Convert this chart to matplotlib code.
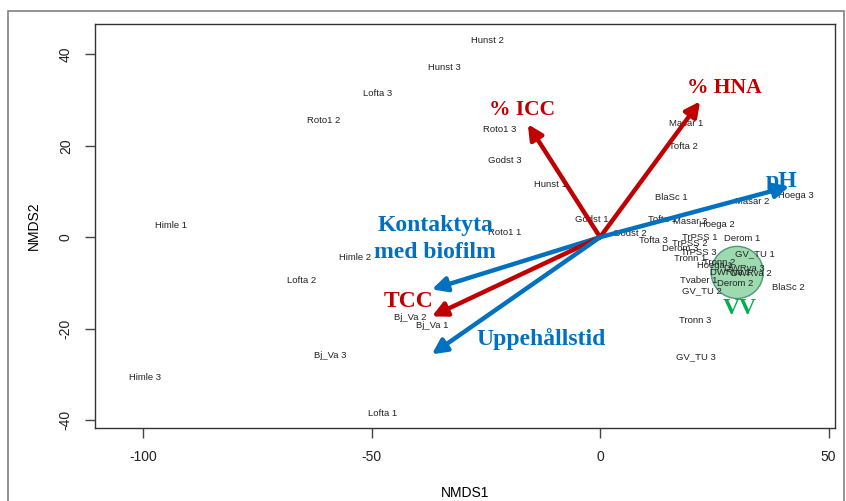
import matplotlib
matplotlib.use("Agg")
import matplotlib.pyplot as plt
from matplotlib.patches import Circle, Rectangle

plt.rcParams["axes.unicode_minus"] = False

# Site scores (NMDS1, NMDS2)
site_labels = [
    "Hunst 2", "Hunst 3", "Lofta 3", "Roto1 2", "Roto1 3", "Godst 3", "Hunst 1",
    "Masar 1", "Tofta 2", "Himle 1", "Roto1 1", "Godst 1", "Godst 2", "Tofta 3",
    "Tofta 1", "Masar 3", "Hoega 2", "BlaSc 1", "Masar 2", "Hoega 3", "Himle 2",
    "Lofta 2", "Bj_Va 2", "Bj_Va 1", "Bj_Va 3", "Himle 3", "Lofta 1", "Tronn 3",
    "GV_TU 3", "GV_TU 2", "BlaSc 2", "TrPSS 1", "Derom 1", "TrPSS 2", "Derom 3",
    "TrPSS 3", "GV_TU 1", "Tronn 1", "Tronn 2", "Hoega 1", "DWRva 3", "DWRva 2",
    "DWRva 1", "Derom 2", "Tvaber 1",
]
site_x = [
    -24.7, -34.1, -48.6, -60.4, -21.9, -20.8, -10.9,
    18.8, 18.2, -93.9, -20.8, -1.8, 6.6, 11.6,
    13.6, 19.7, 25.6, 15.5, 33.3, 42.9, -53.6,
    -65.2, -41.6, -36.8, -59.1, -99.6, -47.5, 20.8,
    21.0, 22.3, 41.1, 21.9, 31.1, 19.7, 17.5,
    21.5, 33.9, 19.7, 26.0, 25.0, 31.5, 33.0,
    28.5, 29.5, 21.5,
]
site_y = [
    43.1, 37.2, 31.5, 25.4, 23.6, 16.8, 11.6,
    24.9, 19.9, 2.6, 1.1, 3.9, 0.9, -0.7,
    3.9, 3.5, 2.8, 8.7, 7.9, 9.2, -4.4,
    -9.4, -17.5, -19.2, -25.8, -30.6, -38.5, -18.1,
    -26.2, -11.6, -11.1, 0.0, -0.2, -1.3, -2.4,
    -3.3, -3.5, -4.6, -5.5, -6.2, -6.8, -7.9,
    -7.7, -10.1, -9.5,
]

# Fitted environmental vectors: arrow tips and label anchors
vec_labels = ["% ICC", "% HNA", "pH", "Kontaktyta\nmed biofilm", "TCC", "Uppehållstid"]
vec_x = [-15.8, 21.9, 41.4, -36.8, -36.8, -36.8]
vec_y = [24.7, 29.7, 11.1, -11.4, -17.3, -25.6]
lab_x = [-17.1, 27.1, 39.8, -36.1, -42.0, -12.9]
lab_y = [27.8, 32.6, 12.2, -0.4, -14.0, -22.3]
vec_colors = ["#C00000", "#C00000", "#0070C0", "#0070C0", "#C00000", "#0070C0"]

# Highlighted group
group_label = "VV"
group_center = (30.0, -7.7)
group_radius = 5.7
group_label_pos = (30.6, -15.6)

fig = plt.figure(figsize=(8.46, 5.01), dpi=100)
ax = fig.add_axes([95 / 846, 1 - 428 / 501, 740 / 846, 404 / 501])

# outer frame of the screenshot
fig.patches.append(Rectangle((8 / 846, -0.05), 836 / 846, 1.05 - 11 / 501,
                             transform=fig.transFigure, fill=False,
                             edgecolor="#808080", lw=1.2))

ax.set_xlim(-110.5, 51.4)
ax.set_ylim(-41.7, 46.6)

ax.add_patch(Circle(group_center, group_radius, facecolor="#93d6a8",
                    edgecolor="#3f8f70", lw=1.0, alpha=0.9, zorder=2))

for lab, x, y in zip(site_labels, site_x, site_y):
    ax.text(x, y, lab, ha="center", va="center", fontsize=6.8,
            family="Liberation Sans", color="#222222", zorder=3)

for tx, ty, c in zip(vec_x, vec_y, vec_colors):
    ax.annotate("", xy=(tx, ty), xytext=(0, 0),
                arrowprops=dict(arrowstyle="-|>", color=c, lw=3.2,
                                mutation_scale=22, shrinkA=0, shrinkB=0),
                zorder=4)

for lab, x, y, c in zip(vec_labels, lab_x, lab_y, vec_colors):
    size = 15.5 if lab.startswith("%") else 17
    ax.text(x, y, lab, ha="center", va="center", fontsize=size, color=c,
            family="Liberation Serif", fontweight="bold", linespacing=1.35,
            zorder=5)

ax.text(*group_label_pos, group_label, ha="center", va="center", fontsize=17,
        color="#00B050", family="Liberation Serif", fontweight="bold", zorder=5)

ax.set_xticks([-100, -50, 0, 50])
ax.set_yticks([-40, -20, 0, 20, 40])
ax.tick_params(direction="out", length=7, width=1, colors="#444444",
               labelsize=10, labelcolor="#222222", pad=9)
for t in ax.get_xticklabels() + ax.get_yticklabels():
    t.set_family("Liberation Sans")
for t in ax.get_yticklabels():
    t.set_rotation(90)
    t.set_va("center")

for s in ax.spines.values():
    s.set_color("#333333")
    s.set_linewidth(1.0)

ax.set_xlabel("NMDS1", fontsize=10, family="Liberation Sans", labelpad=16)
ax.set_ylabel("NMDS2", fontsize=10, family="Liberation Sans", labelpad=13)

fig.savefig("out.png", dpi=100)
